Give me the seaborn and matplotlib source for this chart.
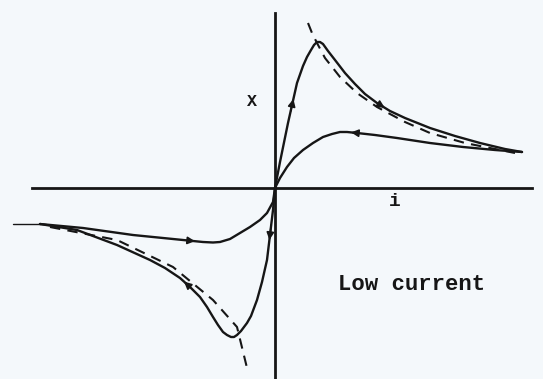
import numpy as np
import pandas as pd
import matplotlib
matplotlib.use("Agg")
import matplotlib.pyplot as plt
import seaborn as sns

# hysteresis loop, low current
upper_out_i = [0.0, 0.05, 0.13, 0.22, 0.28, 0.32, 0.36, 0.39, 0.42, 0.45, 0.48, 0.53, 0.60, 0.70, 0.80, 0.90, 1.02, 1.15, 1.30, 1.55, 1.80, 2.05, 2.30, 2.47]
upper_out_x = [0.0, 0.26, 0.65, 1.05, 1.22, 1.31, 1.38, 1.43, 1.46, 1.46, 1.44, 1.37, 1.28, 1.15, 1.04, 0.94, 0.85, 0.77, 0.70, 0.60, 0.52, 0.45, 0.39, 0.36]

upper_ret_i = [2.47, 2.20, 1.88, 1.55, 1.22, 1.00, 0.82, 0.72, 0.65, 0.57, 0.48, 0.38, 0.28, 0.19, 0.12, 0.05, 0.0]
upper_ret_x = [0.36, 0.38, 0.41, 0.45, 0.50, 0.53, 0.55, 0.56, 0.56, 0.54, 0.51, 0.45, 0.38, 0.30, 0.21, 0.10, 0.0]

lower_out_i = [0.0, -0.02, -0.08, -0.13, -0.18, -0.24, -0.28, -0.34, -0.38, -0.41, -0.44, -0.48, -0.52, -0.57, -0.62, -0.68, -0.75, -0.85, -0.95, -1.10, -1.25, -1.58, -1.98, -2.35]
lower_out_x = [0.0, -0.22, -0.72, -0.94, -1.12, -1.28, -1.35, -1.43, -1.47, -1.49, -1.49, -1.47, -1.44, -1.37, -1.29, -1.19, -1.09, -0.99, -0.90, -0.80, -0.72, -0.57, -0.42, -0.36]

lower_ret_i = [-2.35, -1.92, -1.42, -0.92, -0.72, -0.62, -0.55, -0.45, -0.35, -0.25, -0.15, -0.08, -0.02, 0.0]
lower_ret_x = [-0.36, -0.40, -0.47, -0.52, -0.54, -0.545, -0.54, -0.51, -0.45, -0.39, -0.32, -0.25, -0.14, 0.0]

# dashed reference curves
dash_up_i = [0.33, 0.37, 0.42, 0.50, 0.65, 0.82, 1.02, 1.30, 1.55, 1.90, 2.20, 2.40]
dash_up_x = [1.65, 1.55, 1.45, 1.30, 1.11, 0.95, 0.81, 0.66, 0.55, 0.45, 0.39, 0.35]
dash_lo_i = [-2.25, -1.58, -1.02, -0.62, -0.38, -0.27]
dash_lo_x = [-0.39, -0.52, -0.79, -1.12, -1.39, -1.84]

tail_i = [-2.62, -2.35]
tail_x = [-0.36, -0.36]

# arrows sit on segment k -> k+1 of each curve
arrows = [
    ("upper_out", 2), ("upper_out", 16), ("upper_ret", 6),
    ("lower_out", 1), ("lower_out", 17), ("lower_ret", 3),
]

ink = "#161616"
bg = "#f4f8fb"

sns.set_style("white")
plt.rcParams["font.family"] = ["Liberation Mono", "DejaVu Sans Mono"]

fig = plt.figure(figsize=(5.43, 3.79), dpi=100, facecolor=bg)
ax = fig.add_axes([0, 0, 1, 1])
ax.set_facecolor(bg)

curves = {
    "upper_out": (upper_out_i, upper_out_x),
    "upper_ret": (upper_ret_i, upper_ret_x),
    "lower_out": (lower_out_i, lower_out_x),
    "lower_ret": (lower_ret_i, lower_ret_x),
}
for name, (ci, cx) in curves.items():
    df = pd.DataFrame({"i": ci, "X": cx})
    sns.lineplot(data=df, x="i", y="X", sort=False, estimator=None,
                 color=ink, lw=1.7, ax=ax)

for ci, cx in [(dash_up_i, dash_up_x), (dash_lo_i, dash_lo_x)]:
    df = pd.DataFrame({"i": ci, "X": cx})
    line = sns.lineplot(data=df, x="i", y="X", sort=False, estimator=None,
                        color=ink, lw=1.5, ax=ax)
    line.lines[-1].set_dashes([5, 3.5])

sns.lineplot(x=tail_i, y=tail_x, color=ink, lw=1.0, ax=ax)

for name, k in arrows:
    ci, cx = curves[name]
    x0, y0 = ci[k], cx[k]
    x1, y1 = ci[k + 1], cx[k + 1]
    xm, ym = x0 + 0.6 * (x1 - x0), y0 + 0.6 * (y1 - y0)
    xs, ys = x0 + 0.3 * (x1 - x0), y0 + 0.3 * (y1 - y0)
    ax.annotate("", xy=(xm, ym), xytext=(xs, ys),
                arrowprops=dict(arrowstyle="-|>", color=ink, lw=1.2,
                                mutation_scale=11, shrinkA=0, shrinkB=0))

# axes drawn through the origin
ax.spines["left"].set_position(("data", 0))
ax.spines["bottom"].set_position(("data", 0))
ax.spines["left"].set_bounds(-1.95, 1.75)
ax.spines["bottom"].set_bounds(-2.43, 2.57)
for s in ["left", "bottom"]:
    ax.spines[s].set_color(ink)
    ax.spines[s].set_linewidth(2.0)
ax.spines["right"].set_visible(False)
ax.spines["top"].set_visible(False)
ax.set_xticks([])
ax.set_yticks([])
ax.set_xlabel("")
ax.set_ylabel("")
ax.set_xlim(-2.75, 2.68)
ax.set_ylim(-1.91, 1.88)

ax.text(-0.23, 0.86, "X", fontsize=12, fontweight="bold", color=ink,
        ha="center", va="center")
ax.text(1.20, -0.14, "i", fontsize=14, fontweight="bold", color=ink,
        ha="center", va="center")
ax.text(1.37, -0.96, "Low current", fontsize=16, fontweight="bold", color=ink,
        ha="center", va="center")

fig.savefig("out.png", dpi=100, facecolor=bg)
